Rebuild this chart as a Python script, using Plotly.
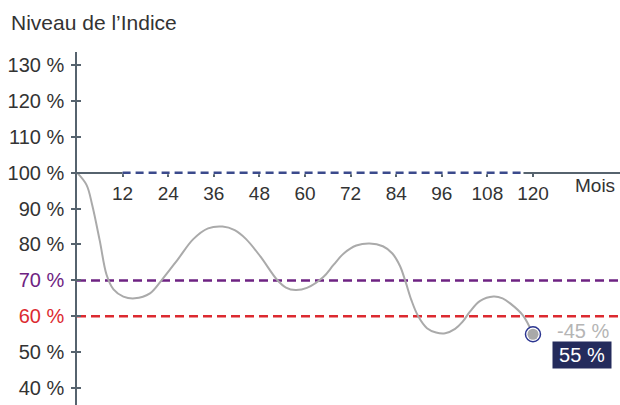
import plotly.graph_objects as go

# ---- data ----
months = [0, 2.5, 4, 6, 7.8, 9.6, 12.2, 15.2, 19.2, 22.3, 26.5, 30.6, 34.5, 38.3, 41.5,
          44.5, 48.3, 52.7, 55, 57.5, 60.5, 64.9, 67.5, 70.2, 73.5, 77, 80.5, 83, 85,
          86.5, 88, 89.8, 92.1, 94.5, 96.9, 99.5, 101.5, 103.4, 106.1, 109.6, 112, 114,
          117.4, 120]
index_level = [100, 96.6, 91, 81, 71.5, 67.5, 65.5, 65, 66.4, 70.1, 75.8, 81.5, 84.5, 85,
               84, 81.5, 76.6, 70.1, 68, 67.3, 67.9, 71, 74.3, 77.5, 79.7, 80.3, 79.5,
               77.5, 74, 69.5, 64.5, 60, 56.7, 55.5, 55.3, 56.5, 58.5, 61.3, 64.3, 65.5,
               65, 63.6, 60.2, 55]
x_ticks = [12, 24, 36, 48, 60, 72, 84, 96, 108, 120]
y_ticks = [40, 50, 60, 70, 80, 90, 100, 110, 120, 130]
autocall_level = 100
autocall_months = [12, 117.5]
coupon_barrier = 70
capital_barrier = 60

FONT = "Liberation Sans"
TXT = "#333333"
AXIS = "#56636e"
PURPLE = "#6e2382"
RED = "#dc2a30"
BLUE = "#3b4a8c"
NAVY = "#242b5c"
GRAY = "#aaaaaa"

X_RANGE = [0, 142.9]
Y_RANGE = [35.3, 133.6]

final = index_level[-1]
perf = final - 100

fig = go.Figure()

# barrier lines
fig.add_trace(go.Scatter(x=X_RANGE, y=[coupon_barrier] * 2, mode="lines",
                         line=dict(color=PURPLE, width=2.5, dash="9px,5px"), hoverinfo="skip"))
fig.add_trace(go.Scatter(x=X_RANGE, y=[capital_barrier] * 2, mode="lines",
                         line=dict(color=RED, width=2.5, dash="9px,5px"), hoverinfo="skip"))
# autocall line (white underlay hides axis line)
fig.add_trace(go.Scatter(x=autocall_months, y=[autocall_level] * 2, mode="lines",
                         line=dict(color="white", width=3), hoverinfo="skip"))
fig.add_trace(go.Scatter(x=autocall_months, y=[autocall_level] * 2, mode="lines",
                         line=dict(color=BLUE, width=2.5, dash="8px,5px"), hoverinfo="skip"))
# index curve
fig.add_trace(go.Scatter(x=months, y=index_level, mode="lines",
                         line=dict(color=GRAY, width=2, shape="spline", smoothing=1.0),
                         hoverinfo="skip"))
# final point
fig.add_trace(go.Scatter(x=[months[-1]], y=[final], mode="markers",
                         marker=dict(size=15, color="white", line=dict(color="#2b3590", width=1.5)),
                         hoverinfo="skip"))
fig.add_trace(go.Scatter(x=[months[-1]], y=[final], mode="markers",
                         marker=dict(size=11, color="#a9a9a9"), hoverinfo="skip"))
# dummy for inner ticks axis
fig.add_trace(go.Scatter(x=[None], y=[None], yaxis="y2", showlegend=False))

pos = (autocall_level - Y_RANGE[0]) / (Y_RANGE[1] - Y_RANGE[0])

def ylab(v):
    if v == coupon_barrier:
        return f'<span style="color:{PURPLE}">{v} %</span>'
    if v == capital_barrier:
        return f'<span style="color:{RED}">{v} %</span>'
    return f"{v} %"

fig.update_layout(
    width=620, height=405,
    margin=dict(l=77, r=0, t=52, b=0),
    paper_bgcolor="white", plot_bgcolor="white",
    showlegend=False,
    font=dict(family=FONT, size=20, color=TXT),
    xaxis=dict(range=X_RANGE, anchor="free", position=pos, showline=True,
               linecolor=AXIS, linewidth=1.5, ticks="outside", ticklen=4, tickwidth=1.5,
               tickcolor=AXIS, tickvals=x_ticks, ticktext=[str(t) for t in x_ticks],
               showgrid=False, zeroline=False, layer="below traces",
               tickfont=dict(size=19, color=TXT)),
    yaxis=dict(range=Y_RANGE, showline=True, linecolor=AXIS, linewidth=1.5,
               ticks="outside", ticklen=4, tickwidth=1.5, tickcolor=AXIS,
               tickvals=y_ticks, ticktext=[ylab(v) for v in y_ticks],
               showgrid=False, zeroline=False, layer="below traces",
               ticklabelstandoff=3, tickfont=dict(size=20, color=TXT)),
    yaxis2=dict(range=Y_RANGE, overlaying="y", side="left", showline=False,
                ticks="inside", ticklen=4, tickwidth=1.5, tickcolor=AXIS,
                tickvals=y_ticks, showticklabels=False, showgrid=False, zeroline=False),
    annotations=[
        dict(text="Niveau de l\u2019Indice", xref="paper", yref="paper", x=-77 / 543, y=1.0,
             yshift=52 - 22, xanchor="left", yanchor="middle", showarrow=False,
             xshift=9, font=dict(size=21, color=TXT)),
        dict(text="Mois", xref="x", yref="y", x=136.3, y=96.3, xanchor="center",
             yanchor="middle", showarrow=False, font=dict(size=19, color=TXT)),
        dict(text=f"{perf:.0f} %", xref="x", yref="y", x=133.2, y=55.8, xanchor="center",
             yanchor="middle", showarrow=False, font=dict(size=20, color="#b5b5b5")),
        dict(text=f"{final:.0f} %", xref="x", yref="y", x=133.0, y=49.2, xanchor="center",
             yanchor="middle", showarrow=False, bgcolor=NAVY, borderpad=2,
             width=54, height=22, font=dict(size=20, color="white")),
    ],
)

fig.write_html("out.html", config={"displayModeBar": False},
               post_script="document.body.style.margin='0px';")
